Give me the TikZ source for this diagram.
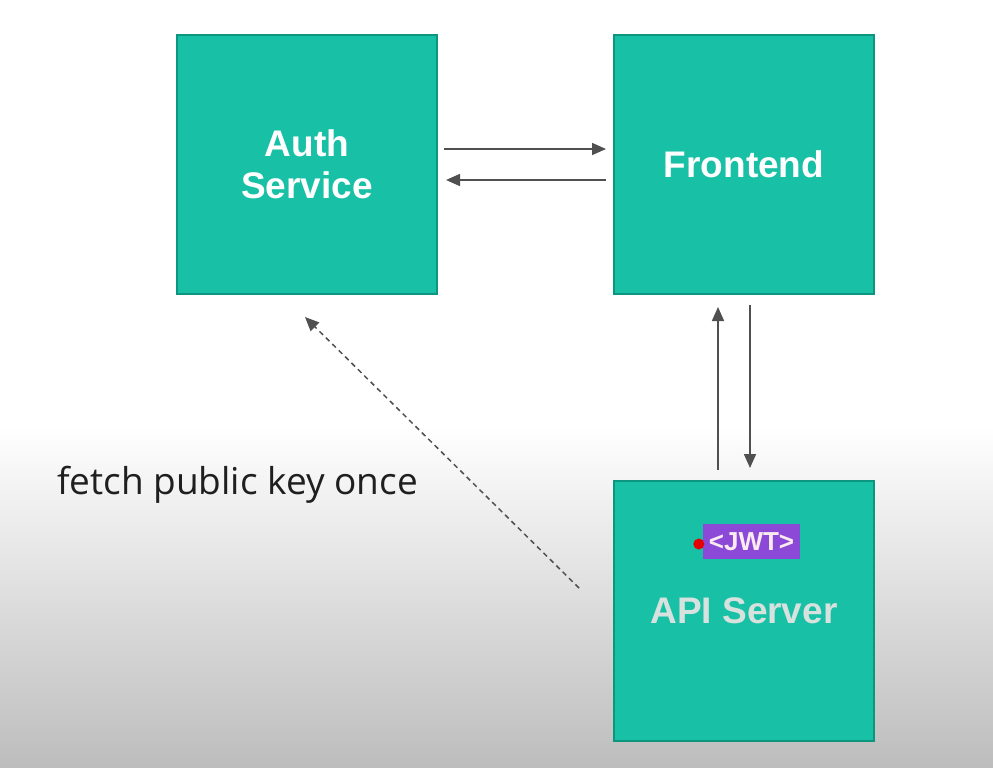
\documentclass[tikz,border=0pt]{standalone}
\usepackage{fontspec}
\setmainfont{Liberation Sans}
\newfontfamily\labelfont{Open Sans}
\usetikzlibrary{arrows.meta,calc}
\definecolor{boxfill}{RGB}{24,192,166}
\definecolor{boxline}{RGB}{12,150,128}
\definecolor{arrowgray}{RGB}{80,80,80}
\definecolor{jwtpurple}{RGB}{140,72,214}
\definecolor{apitext}{RGB}{215,225,222}
\tikzset{
  svcbox/.style={draw=boxline, line width=2pt, fill=boxfill, minimum width=260pt, minimum height=259pt,
    text=white, font=\fontsize{37}{42}\selectfont\bfseries, align=center, inner sep=0pt},
  arr/.style={draw=arrowgray, line width=1.6pt, -{Triangle[length=14pt,width=12pt]}},
  dasharr/.style={arr, dash pattern=on 5pt off 4pt, line width=1.5pt},
}
\begin{document}
\begin{tikzpicture}[x=1pt,y=-1pt]
\useasboundingbox (0,0) rectangle (993,768);
\fill[white] (0,0) rectangle (993,425);
\shade[top color=white, bottom color=black!26] (0,425) rectangle (993,768);
\node[svcbox] (auth) at (307,164.5) {Auth\\Service};
\node[svcbox] (front) at (744,164.5) {Frontend};
\node[svcbox, minimum height=260pt] (api) at (744,611) {};
\node[text=apitext, font=\fontsize{37}{42}\selectfont\bfseries, inner sep=0pt] (apilabel) at (744,611) {API Server};
\node[fill=jwtpurple, text=white!92!purple, font=\fontsize{26}{28}\selectfont\bfseries, minimum width=97pt, minimum height=35pt, inner sep=0pt] (jwt) at (751.5,541.5) {<JWT>};
\fill[red!90!black] (jwt.west) ++(-4,2.5) circle (5.5pt);
\node[font=\labelfont\fontsize{37}{42}\selectfont, text=black!88, anchor=west, inner sep=0pt] (fetch) at (57,485) {fetch public key once};
\draw[arr] ([xshift=6pt,yshift=15.5pt]auth.east) -- ([xshift=-7pt,yshift=15.5pt]front.west);
\draw[arr] ([xshift=-7pt,yshift=-15.5pt]front.west) -- ([xshift=8pt,yshift=-15.5pt]auth.east);
\draw[arr] ([xshift=-26pt,yshift=10pt]api.north) -- ([xshift=-26pt,yshift=-12pt]front.south);
\draw[arr] ([xshift=6pt,yshift=-10pt]front.south) -- ([xshift=6pt,yshift=12pt]api.north);
\draw[dasharr] ([xshift=-34pt,yshift=23pt]api.west) -- ([xshift=-2pt,yshift=-22pt]auth.south);
\end{tikzpicture}
\end{document}
